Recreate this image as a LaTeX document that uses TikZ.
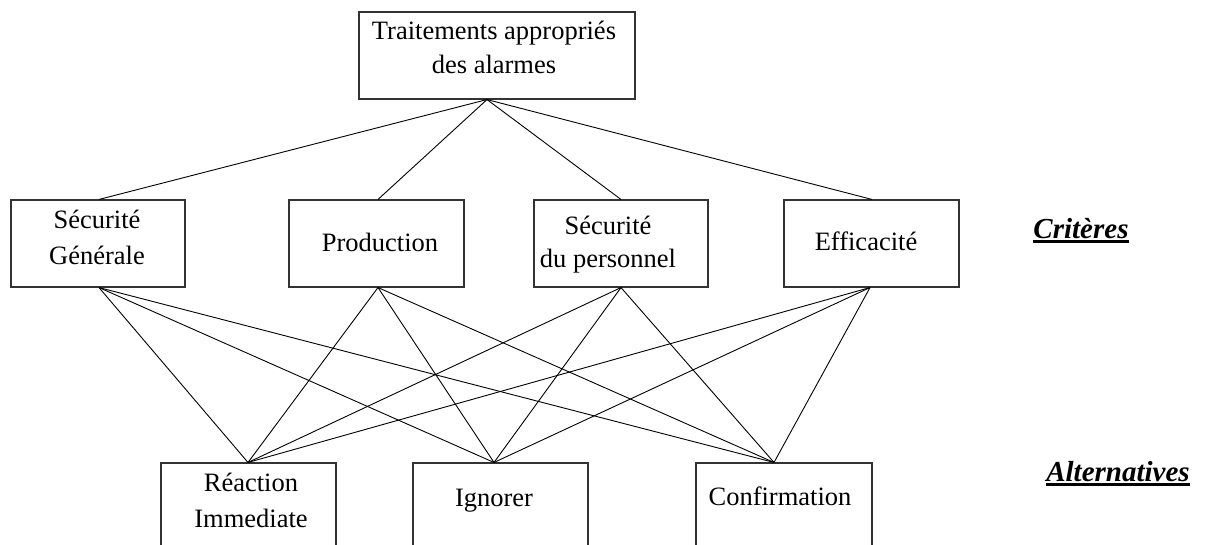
\documentclass[tikz,border=0pt]{standalone}
\usepackage{fontspec}
\setmainfont{Liberation Serif}
\begin{document}
\begin{tikzpicture}[x=1pt, y=-1pt,
  box/.style={draw=black!80, line width=1.1pt, inner sep=0pt,
              minimum width=175pt, minimum height=87pt},
  altbox/.style={box, minimum height=100pt},
  txt/.style={inner sep=0pt, anchor=base, align=center,
              font=\fontsize{26.5}{36}\selectfont},
  lbl/.style={inner sep=0pt, anchor=base,
              font=\fontsize{29}{34}\selectfont\bfseries\itshape},
  wire/.style={draw=black, line width=0.9pt},
  uline/.style={draw=black, line width=2.2pt}
]
\path[use as bounding box, fill=white] (0,0) rectangle (1205,544);

% goal (a multi-line node sits on the baseline of its last line)
\node[box, minimum width=276pt] (top) at (497,55.5) {};
\node[txt, font=\fontsize{26.5}{34}\selectfont] (top-t) at (494,73)
  {Traitements appropriés\\des alarmes};

% criteria
\node[box, minimum width=174pt] (sg)   at (98,243.5)  {};
\node[box]                      (prod) at (376.5,243.5) {};
\node[box, minimum width=174pt] (sdp)  at (621,243.5) {};
\node[box]                      (eff)  at (871.5,243.5) {};

\node[txt] (sg-t)   at (97,264)  {Sécurité\\Générale};
\node[txt] (prod-t) at (380,251) {Production};
\node[txt, font=\fontsize{26.5}{33}\selectfont] (sdp-t) at (608,267) {Sécurité\\du personnel};
\node[txt] (eff-t)  at (866,250) {Efficacité};

% alternatives (boxes run past the lower edge)
\node[altbox]                      (ri)   at (248.5,513) {};
\node[altbox]                      (ign)  at (500.5,513) {};
\node[altbox, minimum width=176pt] (conf) at (784,513)   {};

\node[txt] (ri-t)   at (251,527) {Réaction\\Immediate};
\node[txt] (ign-t)  at (494,506) {Ignorer};
\node[txt] (conf-t) at (780,505) {Confirmation};

% level labels
\node[lbl] (crit) at (1081,238) {Critères};
\draw[uline] ([yshift=-3.5pt]crit.base west) -- ([yshift=-3.5pt]crit.base east);
\node[lbl] (alt) at (1118,481) {Alternatives};
\draw[uline] ([yshift=-3.5pt]alt.base west) -- ([yshift=-3.5pt]alt.base east);

% goal to criteria
\draw[wire] ([xshift=-10pt]top.south) -- ([xshift=1pt]sg.north);
\draw[wire] ([xshift=-10pt]top.south) -- ([xshift=1.5pt]prod.north);
\draw[wire] ([xshift=-10pt]top.south) -- (sdp.north);
\draw[wire] ([xshift=-10pt]top.south) -- ([xshift=0.5pt]eff.north);

% criteria to alternatives
\foreach \c/\cs in {sg/1,prod/1.5,sdp/0,eff/-1.5}
  \foreach \a/\as in {ri/-0.5,ign/-6.5,conf/-10}
    \draw[wire] ([xshift=\cs pt]\c.south) -- ([xshift=\as pt]\a.north);
\end{tikzpicture}
\end{document}
